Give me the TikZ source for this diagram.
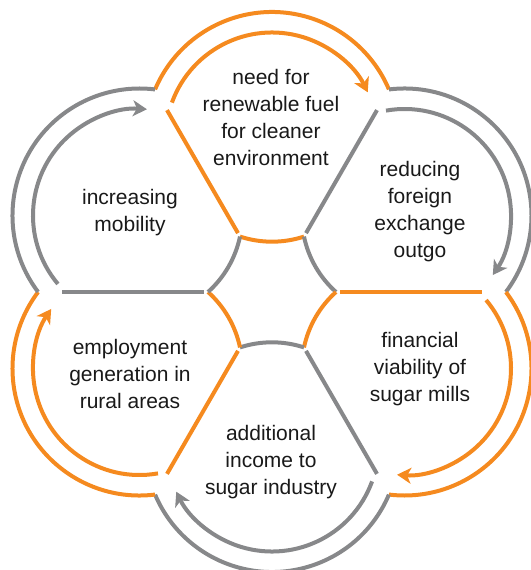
\documentclass[tikz,border=0pt]{standalone}
\usepackage{fontspec}
\setmainfont{Liberation Sans}
\usetikzlibrary{arrows.meta,calc}
\definecolor{cycorange}{HTML}{F58A1F}
\definecolor{cycgray}{HTML}{87888A}
\begin{document}
\begin{tikzpicture}[x=1pt,y=1pt,
  ring/.style={line width=4pt},
  flow/.style={line width=4pt,-{Stealth[length=14pt,width=16pt,inset=4pt]}},
  petaltext/.style={align=center,font=\fontsize{21}{27}\selectfont,text=black!90}]
\useasboundingbox (-272,-278) rectangle (258,292);
\coordinate (O) at (0,0);
% six petals: outer ring, inner flow arrow, own spoke and hub edge
\foreach \a/\c/\n in {90/cycorange/pTop, 30/cycgray/pTR, -30/cycorange/pBR,
                      -90/cycgray/pBot, -150/cycorange/pBL, 150/cycgray/pTL}{
  \coordinate (\n) at (\a:153);
  \draw[ring,\c] (\n) ++({\a+67}:127) arc[start angle=\a+67, end angle=\a-67, radius=127];
  \draw[flow,\c] (\n) ++({\a+70}:106.5) arc[start angle=\a+70, end angle=\a-64, radius=106.5];
  \draw[ring,\c] ($(O)+({\a+30}:68)$) -- ($(O)+({\a+30}:210)$);
  \draw[ring,\c] (\n) ++({\a+198.15}:102.7) arc[start angle=\a+198.15, end angle=\a+161.85, radius=102.7];
}
\node[petaltext] (tTop) at (-1,175) {need for\\renewable fuel\\for cleaner\\environment};
\node[petaltext] (tTR) at (148,80) {reducing\\foreign\\exchange\\outgo};
\node[petaltext] (tBR) at (148,-77) {financial\\viability of\\sugar mills};
\node[petaltext] (tBot) at (-1,-170) {additional\\income to\\sugar industry};
\node[petaltext] (tBL) at (-142,-82) {employment\\generation in\\rural areas};
\node[petaltext] (tTL) at (-142,79) {increasing\\mobility};
\end{tikzpicture}
\end{document}
